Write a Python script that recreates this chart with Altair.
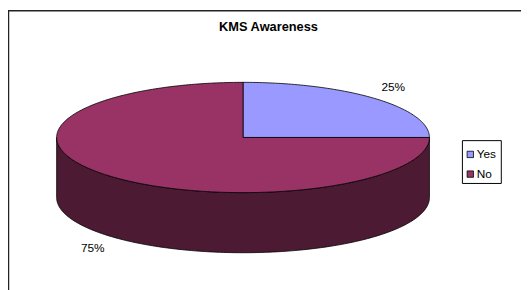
import altair as alt
import numpy as np
import pandas as pd

# ---- data ----
categories = ["Yes", "No"]
values = [25, 75]
pct_labels = ["25%", "75%"]
top_colors = ["#9999FF", "#993366"]
side_colors = ["#4C4C80", "#4D1A33"]
title_text = "KMS Awareness"

# ---- layout (chart pixel coords; page = chart + 8) ----
W, H = 521, 282
X_RANGE = [49.4, 428.0]      # maps data x in [-1, 1]
Y_RANGE = [185.3, 73.3]      # maps data y in [-1, 1]
DEPTH = 1.09                 # extrusion depth in y data units
STEPS = 360

total = float(sum(values))
top_rows, side_rows, label_rows = [], [], []
start = 0.0
for k, (cat, v, lab) in enumerate(zip(categories, values, pct_labels)):
    end = start + 360.0 * v / total
    n = max(2, int(STEPS * v / total) + 1)
    th = np.radians(np.linspace(start, end, n))
    pts = [(0.0, 0.0)] + list(zip(np.sin(th), np.cos(th))) + [(0.0, 0.0)]
    for i, (x, y) in enumerate(pts):
        top_rows.append(dict(cat=cat, poly=f"top{k}", i=i, x=x, y=y))
    lo, hi = max(start, 90.0), min(end, 270.0)
    if hi > lo:
        th2 = np.radians(np.linspace(lo, hi, max(2, int(STEPS * (hi - lo) / 360) + 1)))
        upper = list(zip(np.sin(th2), np.cos(th2)))
        lower = [(x, y - DEPTH) for x, y in upper][::-1]
        spts = upper + lower + [upper[0]]
        for i, (x, y) in enumerate(spts):
            side_rows.append(dict(cat=cat, poly=f"side{k}", i=i, x=x, y=y))
    mid = np.radians((start + end) / 2)
    ly = 1.29 * np.cos(mid)
    if np.cos(mid) < 0:
        ly -= DEPTH
    label_rows.append(dict(cat=cat, lab=lab, x=1.14 * np.sin(mid), y=ly))
    start = end

top_df = pd.DataFrame(top_rows)
side_df = pd.DataFrame(side_rows)
label_df = pd.DataFrame(label_rows)

xs = alt.Scale(domain=[-1, 1], range=X_RANGE, nice=False, zero=False)
ys = alt.Scale(domain=[-1, 1], range=Y_RANGE, nice=False, zero=False)
X = alt.X("x:Q", scale=xs, axis=None)
Y = alt.Y("y:Q", scale=ys, axis=None)

side = alt.Chart(side_df).mark_line(
    filled=True, stroke="black", strokeWidth=0.8, strokeJoin="round"
).encode(
    x=X, y=Y, order="i:Q", detail="poly:N",
    fill=alt.Fill("cat:N", scale=alt.Scale(domain=categories, range=side_colors), legend=None),
)

top = alt.Chart(top_df).mark_line(
    filled=True, stroke="black", strokeWidth=0.8, strokeJoin="round"
).encode(
    x=X, y=Y, order="i:Q", detail="poly:N",
    fill=alt.Fill("cat:N", scale=alt.Scale(domain=categories, range=top_colors), legend=None),
)

labels = alt.Chart(label_df).mark_text(
    font="Liberation Sans", fontSize=12, color="black", baseline="middle", align="center"
).encode(x=X, y=Y, text="lab:N")

title = alt.Chart(pd.DataFrame({"t": [title_text]})).mark_text(
    font="Liberation Sans", fontSize=13, fontWeight="bold", color="black",
    baseline="middle", align="center"
).encode(x=alt.value(264.6), y=alt.value(17), text="t:N")

frame = alt.Chart(pd.DataFrame({"a": [0]})).mark_rect(
    fill="white", stroke="#222222", strokeWidth=1.5
).encode(x=alt.value(0.5), y=alt.value(0.5), x2=alt.value(W + 10), y2=alt.value(H + 10))

legend_df = pd.DataFrame({"cat": categories})
leg_box = alt.Chart(pd.DataFrame({"a": [0]})).mark_rect(
    fill="white", stroke="black", strokeWidth=1
).encode(x=alt.value(461.5), y=alt.value(132.5), x2=alt.value(501), y2=alt.value(176))

LY = alt.Y("cat:N", scale=alt.Scale(type="point", domain=categories, range=[146.5, 166.5], padding=0), axis=None)
leg_sym = alt.Chart(legend_df).mark_point(
    shape="square", filled=True, size=42, stroke="black", strokeWidth=0.8, opacity=1
).encode(
    x=alt.value(469.5), y=LY,
    fill=alt.Fill("cat:N", scale=alt.Scale(domain=categories, range=top_colors), legend=None),
)
leg_txt = alt.Chart(legend_df).mark_text(
    font="Liberation Sans", fontSize=12, color="black", align="left", baseline="middle"
).encode(x=alt.value(476), y=LY, text="cat:N")

chart = alt.layer(frame, title, side, top, labels, leg_box, leg_sym, leg_txt).resolve_scale(
    y="independent", fill="independent"
).properties(
    width=W, height=H, autosize=alt.AutoSizeParams(type="none"), padding=0
).configure_view(stroke=None)

chart.save("out.html", embed_options={"renderer": "svg", "actions": False})
